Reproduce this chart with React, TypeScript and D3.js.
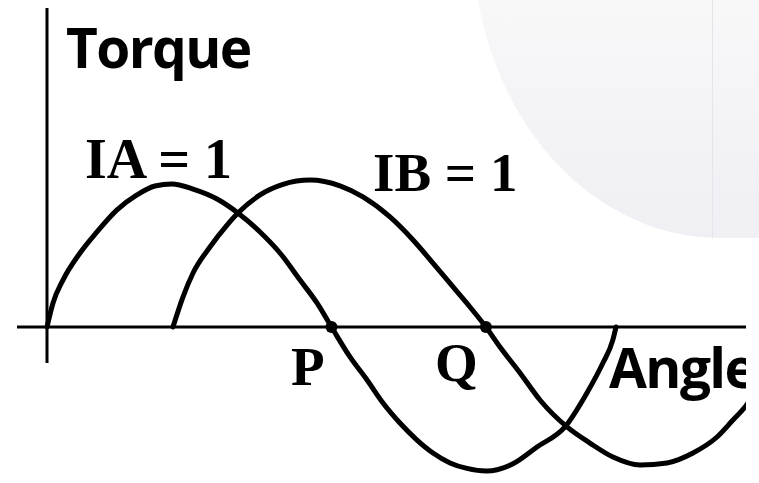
import React from "react";
import * as d3 from "d3";

// Angle (degrees) and torque (per unit)
const iaAngle = [0, 3.8, 10.1, 20.9, 31.6, 44.3, 56.9, 68.3, 79, 92.4, 107.6, 120.8, 134.8, 147.4, 160.1, 170.8, 180, 191.7, 202.5, 212.6, 223.3, 234.1, 244.2, 255, 265.7, 278, 294.8, 310, 327.7, 341.6, 351.7, 358, 360];
const iaTorque = [0, 0.167, 0.326, 0.514, 0.66, 0.813, 0.917, 0.979, 0.993, 0.958, 0.889, 0.792, 0.66, 0.514, 0.326, 0.167, 0, -0.208, -0.368, -0.528, -0.667, -0.785, -0.875, -0.944, -0.982, -1.0, -0.95, -0.833, -0.694, -0.458, -0.25, -0.09, 0];

const ibAngle = [79.7, 86, 92.4, 103.1, 113.9, 120.8, 134.8, 149.3, 166.4, 185.4, 199.9, 217, 231.6, 244.2, 256.9, 267.6, 277.7, 286.6, 299.3, 311.9, 329, 343.5, 358.1, 375.2, 392.3, 408.7, 423.9, 434, 441.6, 450];
const ibTorque = [0, 0.208, 0.375, 0.556, 0.708, 0.792, 0.917, 0.99, 1.02, 0.98, 0.903, 0.764, 0.604, 0.444, 0.278, 0.139, 0, -0.139, -0.319, -0.507, -0.694, -0.806, -0.903, -0.958, -0.944, -0.875, -0.764, -0.646, -0.556, -0.42];

const markers = [
  { name: "P", angle: 180 },
  { name: "Q", angle: 277.7 },
];

const axisLabels = { y: "Torque", x: "Angle" };
const seriesLabels = ["IA = 1", "IB = 1"];

export default function App() {
  const W = 759;
  const H = 483;
  const x = d3.scaleLinear().domain([0, 360]).range([47, 616]);
  const y = d3.scaleLinear().domain([-1, 1]).range([471, 183]);

  const line = d3
    .line<[number, number]>()
    .x((d) => x(d[0]))
    .y((d) => y(d[1]))
    .curve(d3.curveMonotoneX);

  const ia = iaAngle.map((a, i) => [a, iaTorque[i]] as [number, number]);
  const ib = ibAngle.map((a, i) => [a, ibTorque[i]] as [number, number]);

  const serif = "'Liberation Serif', 'Times New Roman', serif";
  const sans = "'Open Sans', 'Noto Sans', sans-serif";

  return (
    <svg
      width={W}
      height={H}
      style={{ position: "absolute", left: 0, top: 0, display: "block", background: "#fff" }}
    >
      <defs>
        <linearGradient id="bg" gradientUnits="userSpaceOnUse" x1="0" y1="0" x2="0" y2="238">
          <stop offset="0" stopColor="#f8f8f9" />
          <stop offset="1" stopColor="#efeff4" />
        </linearGradient>
        <clipPath id="clip">
          <rect x={0} y={0} width={746} height={H} />
        </clipPath>
      </defs>
      {/* decorative background shape */}
      <g>
        <ellipse cx={720} cy={-60} rx={247} ry={298} fill="url(#bg)" />
        <rect x={719} y={0} width={W - 719} height={238} fill="url(#bg)" />
        <line x1={712.5} y1={0} x2={712.5} y2={238} stroke="#e4e4ea" strokeWidth={1} />
      </g>
      <g clipPath="url(#clip)">
        {/* axes */}
        <line x1={x(0)} y1={8} x2={x(0)} y2={363} stroke="#000" strokeWidth={3} />
        <line x1={17} y1={y(0)} x2={746} y2={y(0)} stroke="#000" strokeWidth={3} />
        {/* curves */}
        <path d={line(ia) || ""} fill="none" stroke="#000" strokeWidth={5} strokeLinecap="round" />
        <path d={line(ib) || ""} fill="none" stroke="#000" strokeWidth={5} strokeLinecap="round" />
        {markers.map((m) => (
          <circle key={m.name} cx={x(m.angle)} cy={y(0)} r={6} fill="#000" />
        ))}
        {/* labels */}
        <text x={66} y={68} fontFamily={sans} fontWeight={700} fontSize={55} letterSpacing={-1.6} fill="#000">
          {axisLabels.y}
        </text>
        <text x={609} y={388} fontFamily={sans} fontWeight={700} fontSize={55} letterSpacing={-1.6} fill="#000">
          {axisLabels.x}
        </text>
        <text x={85} y={178} fontFamily={serif} fontWeight={700} fontSize={56} fill="#000">
          {seriesLabels[0]}
        </text>
        <text x={373} y={191} fontFamily={serif} fontWeight={700} fontSize={55} fill="#000">
          {seriesLabels[1]}
        </text>
        <text x={291} y={385} fontFamily={serif} fontWeight={700} fontSize={55} fill="#000">
          {markers[0].name}
        </text>
        <text x={435} y={381} fontFamily={serif} fontWeight={700} fontSize={55} fill="#000">
          {markers[1].name}
        </text>
      </g>
    </svg>
  );
}
